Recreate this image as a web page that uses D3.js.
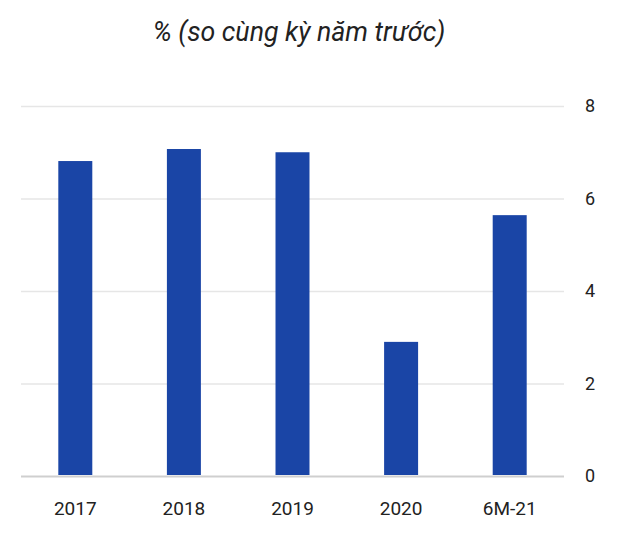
<!DOCTYPE html>
<html><head><meta charset="utf-8">
<script src="https://cdn.jsdelivr.net/npm/d3@7"></script>
<style>body{margin:0;background:#fff}svg{display:block}</style>
</head><body>
<script>
const categories = ["2017","2018","2019","2020","6M-21"];
const values = [6.81, 7.07, 7.0, 2.9, 5.64];
const yTicks = [0, 2, 4, 6, 8];
const title = "% (so cùng kỳ năm trước)";

const W = 630, H = 548;
const svg = d3.select("body").append("svg").attr("width", W).attr("height", H);
const x = d3.scaleBand().domain(categories).range([21, 564]).paddingInner(0.687).paddingOuter(0.3435);
const y = d3.scaleLinear().domain([0, 8]).range([476, 106]);

svg.append("text").attr("x", 299).attr("y", 41).attr("text-anchor", "middle")
  .attr("font-family", "Roboto, sans-serif").attr("font-style", "italic")
  .attr("font-size", 26.7).attr("fill", "#222").text(title);

const gy = svg.append("g").attr("transform", "translate(564,0)")
  .call(d3.axisRight(y).tickValues(yTicks).tickSize(-543).tickFormat(d3.format("d")));
gy.select(".domain").remove();
gy.selectAll(".tick line").attr("stroke", d => d === 0 ? "#cfcfcf" : "#e6e6e6").attr("stroke-width", d => d === 0 ? 2 : 1.5);
gy.selectAll(".tick text").attr("x", 26).attr("font-family", "Roboto, sans-serif").attr("font-size", 18).attr("fill", "#222").attr("text-anchor", "middle");

svg.selectAll("rect.bar").data(categories).enter().append("rect").attr("class", "bar")
  .attr("x", d => x(d)).attr("width", x.bandwidth())
  .attr("y", (d, i) => y(values[i])).attr("height", (d, i) => y(0) - y(values[i]) - 1)
  .attr("fill", "#1a45a6");

const gx = svg.append("g").attr("transform", "translate(0,476)")
  .call(d3.axisBottom(x).tickSize(0).tickPadding(25.5));
gx.select(".domain").remove();
gx.selectAll(".tick text").attr("font-family", "Roboto, sans-serif").attr("font-size", 19).attr("fill", "#222");
</script>
</body></html>
